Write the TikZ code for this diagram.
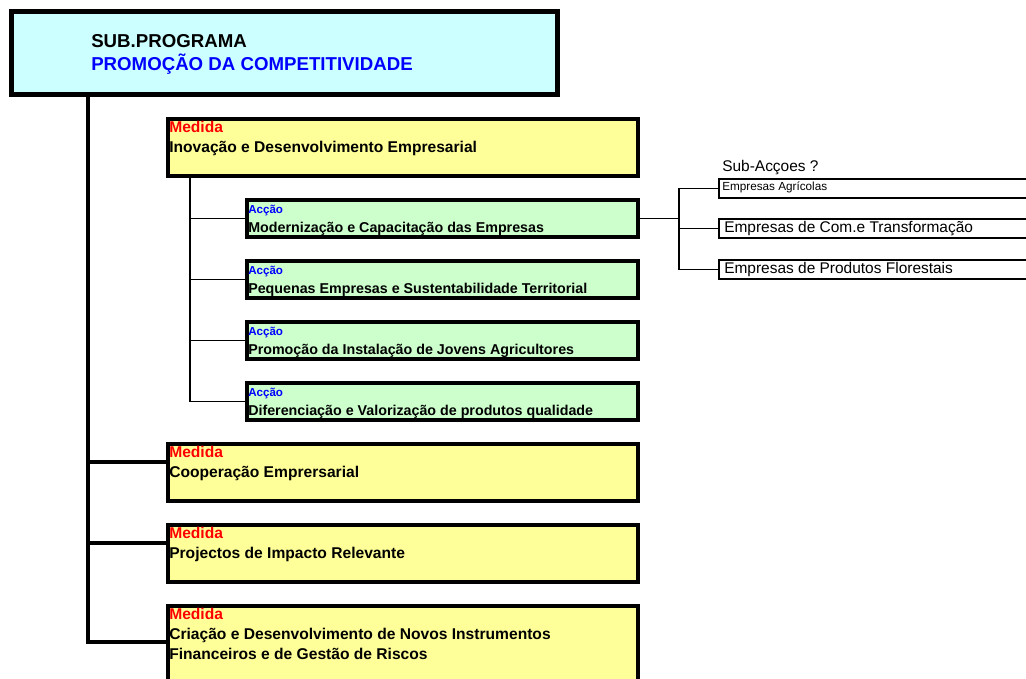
\documentclass[tikz,border=0pt]{standalone}
\usepackage{fontspec}
\setmainfont{Liberation Sans}
\usepackage{xcolor}
\usetikzlibrary{positioning}

\definecolor{subcyan}{HTML}{CCFFFF}
\definecolor{medyellow}{HTML}{FFFF99}
\definecolor{accgreen}{HTML}{CCFFCC}

\begin{document}
\begin{tikzpicture}[x=0.75pt, y=-0.75pt,
			topblock/.style={rectangle, draw, fill=subcyan, line width=3.5pt, anchor=north west,
					minimum width=409.75pt, minimum height=62.5pt, inner sep=0pt},
			medblock/.style={rectangle, draw, fill=medyellow, line width=3pt, anchor=north west,
					minimum width=352.5pt, minimum height=42.75pt, inner sep=0pt},
			accblock/.style={rectangle, draw, fill=accgreen, line width=2.8pt, anchor=north west,
					minimum width=293.5pt, minimum height=28pt, inner sep=0pt},
			subblock/.style={rectangle, draw, fill=white, line width=1.5pt, anchor=north west,
					minimum width=250pt, minimum height=14.25pt, inner sep=0pt},
			txt/.style={inner sep=0pt, anchor=base west},
			toptxt/.style={txt, font=\fontsize{14}{17}\selectfont\bfseries},
			medlbl/.style={txt, text=red, font=\fontsize{11.7}{14}\selectfont\bfseries},
			medtxt/.style={txt, align=left, font=\fontsize{11.7}{15}\selectfont\bfseries},
			acclbl/.style={txt, text=blue, font=\fontsize{8.7}{10}\selectfont\bfseries},
			acctxt/.style={txt, font=\fontsize{10.7}{13}\selectfont\bfseries},
			subtxt/.style={txt, font=\fontsize{11.6}{14}\selectfont},
			trunk/.style={line width=2.4pt},
			inner/.style={line width=1.3pt},
			twig/.style={line width=0.9pt}
		]
		\useasboundingbox (0,0) rectangle (1026,679);
		\begin{scope}
			\clip (0,0) rectangle (1026,679);

			% Sub-programa
			\node[topblock] (top) at (9,9) {};
			\node[toptxt] (topa) at ([shift={(82,38)}]top.north west) {SUB.PROGRAMA};
			\node[toptxt, text=blue] (topb) at ([shift={(82,61)}]top.north west) {PROMOÇÃO DA COMPETITIVIDADE};

			% Medidas
			\node[medblock] (m1) at (166,117) {};
			\node[medlbl] (m1a) at ([shift={(3,15.5)}]m1.north west) {Medida};
			\node[medtxt] (m1b) at ([shift={(3,35.5)}]m1.north west) {Inovação e Desenvolvimento Empresarial};

			\node[medblock] (m2) at (166,442) {};
			\node[medlbl] (m2a) at ([shift={(3,15.5)}]m2.north west) {Medida};
			\node[medtxt] (m2b) at ([shift={(3,35.5)}]m2.north west) {Cooperação Emprersarial};

			\node[medblock] (m3) at (166,523) {};
			\node[medlbl] (m3a) at ([shift={(3,15.5)}]m3.north west) {Medida};
			\node[medtxt] (m3b) at ([shift={(3,35.5)}]m3.north west) {Projectos de Impacto Relevante};

			\node[medblock, minimum height=75pt] (m4) at (166,604) {};
			\node[medlbl] (m4a) at ([shift={(3,15.5)}]m4.north west) {Medida};
			\node[medtxt] (m4b) at ([shift={(3,35.5)}]m4.north west) {Criação e Desenvolvimento de Novos Instrumentos};
			\node[medtxt] (m4c) at ([shift={(3,55.5)}]m4.north west) {Financeiros e de Gestão de Riscos};

			% Acções
			\node[accblock] (a1) at (245,198) {};
			\node[acclbl] (a1a) at ([shift={(3,15)}]a1.north west) {Acção};
			\node[acctxt] (a1b) at ([shift={(3,34.5)}]a1.north west) {Modernização e Capacitação das Empresas};

			\node[accblock] (a2) at (245,259) {};
			\node[acclbl] (a2a) at ([shift={(3,15)}]a2.north west) {Acção};
			\node[acctxt] (a2b) at ([shift={(3,34.5)}]a2.north west) {Pequenas Empresas e Sustentabilidade Territorial};

			\node[accblock] (a3) at (245,320) {};
			\node[acclbl] (a3a) at ([shift={(3,15)}]a3.north west) {Acção};
			\node[acctxt] (a3b) at ([shift={(3,34.5)}]a3.north west) {Promoção da Instalação de Jovens Agricultores};

			\node[accblock] (a4) at (245,381) {};
			\node[acclbl] (a4a) at ([shift={(3,15)}]a4.north west) {Acção};
			\node[acctxt] (a4b) at ([shift={(3,34.5)}]a4.north west) {Diferenciação e Valorização de produtos qualidade};

			% Sub-acções
			\node[subtxt] (subh) at (722,171) {Sub-Acçoes ?};
			\node[subblock] (s1) at (718,178) {};
			\node[txt, font=\fontsize{8.8}{10}\selectfont] (s1t) at ([shift={(4,12.7)}]s1.north west) {Empresas Agrícolas};
			\node[subblock] (s2) at (718,218) {};
			\node[subtxt] (s2t) at ([shift={(6,14.7)}]s2.north west) {Empresas de Com.e Transformação};
			\node[subblock] (s3) at (718,259) {};
			\node[subtxt] (s3t) at ([shift={(6,14)}]s3.north west) {Empresas de Produtos Florestais};

			% Connections
			\coordinate (trk) at (88,96);
			\draw[trunk] (trk) |- ([shift={(0,-14)}]m4.west);
			\draw[trunk] ([shift={(0,-10.5)}]m2.west) -- ([shift={(0,-10.5)}]m2.west -| trk);
			\draw[trunk] ([shift={(0,-10.5)}]m3.west) -- ([shift={(0,-10.5)}]m3.west -| trk);

			\coordinate (inr) at (190,177);
			\draw[inner] (inr) |- (a4.west);
			\draw[twig] (inr |- a1.west) -- (a1.west);
			\draw[twig] (inr |- a2.west) -- (a2.west);
			\draw[twig] (inr |- a3.west) -- (a3.west);

			\coordinate (sj) at (679,190);
			\draw[twig] (a1.east) -- (a1.east -| sj);
			\draw[twig] (s1.west) -| (sj |- s3.west) -- (s3.west);
			\draw[twig] (sj |- s2.west) -- (s2.west);
		\end{scope}
	\end{tikzpicture}
\end{document}
